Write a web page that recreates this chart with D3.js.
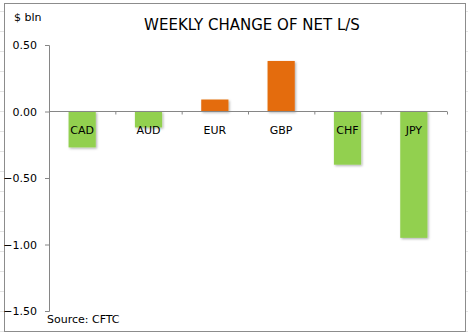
<!DOCTYPE html>
<html><head><meta charset="utf-8">
<script src="https://cdn.jsdelivr.net/npm/d3@7"></script>
<style>html,body{margin:0;padding:0;background:#fff;}svg{display:block;}</style>
</head><body>
<svg id="chart" width="468" height="335"></svg>
<script>
const categories = ["CAD","AUD","EUR","GBP","CHF","JPY"];
const values = [-0.27, -0.12, 0.09, 0.38, -0.40, -0.95];
const yTicks = [0.5, 0, -0.5, -1.0, -1.5];
const title = "WEEKLY CHANGE OF NET L/S";
const unitLabel = "$ bln";
const sourceLabel = "Source: CFTC";

const svg = d3.select("#chart");
const font = "'DejaVu Sans', sans-serif";

// spreadsheet background gridlines
const bg = svg.append("g").attr("stroke","#e3e3e3").attr("stroke-width",1);
for (let y = 11; y < 335; y += 20) {
  bg.append("line").attr("x1",0).attr("x2",4).attr("y1",y+0.5).attr("y2",y+0.5);
  bg.append("line").attr("x1",466).attr("x2",468).attr("y1",y+0.5).attr("y2",y+0.5);
}

// chart area border
svg.append("rect").attr("x",4.5).attr("y",3.5).attr("width",461).attr("height",328)
  .attr("fill","#fff").attr("stroke","#8c8c8c").attr("stroke-width",1);

const x = d3.scaleBand().domain(categories).range([49, 447]).paddingInner(0.59).paddingOuter(0.295);
const y = d3.scaleLinear().domain([-1.5, 0.5]).range([311, 45]);

const defs = svg.append("defs");
const f = defs.append("filter").attr("id","sh").attr("x","-20%").attr("y","-20%").attr("width","150%").attr("height","150%");
f.append("feDropShadow").attr("dx",1.2).attr("dy",1.2).attr("stdDeviation",1.2).attr("flood-color","#000").attr("flood-opacity",0.3);

// bars
svg.append("g").selectAll("rect").data(values).join("rect")
  .attr("x",(d,i)=>x(categories[i]))
  .attr("width",x.bandwidth())
  .attr("y",d=>y(Math.max(0,d)))
  .attr("height",d=>Math.abs(y(d)-y(0)))
  .attr("fill",d=>d>=0?"#E46C0A":"#92D050")
  .attr("filter","url(#sh)");

// y axis
const yAxis = d3.axisLeft(y).tickValues(yTicks).tickFormat(d3.format(".2f")).tickSize(4).tickPadding(8);
const gy = svg.append("g").attr("transform","translate(49,0)").call(yAxis);
gy.selectAll("text").attr("font-family",font).attr("font-size",11).attr("fill","#000");
gy.selectAll("line, path").attr("stroke","#868686");

// x axis at zero
const xAxis = d3.axisBottom(d3.scaleLinear().domain([0,6]).range([49,447])).ticks(6).tickSize(3).tickFormat("");
const gx = svg.append("g").attr("transform",`translate(0,${y(0)})`).call(xAxis);
gx.selectAll("line, path").attr("stroke","#868686");
gx.select(".domain").attr("d","M49,0H447");

// category labels
svg.append("g").selectAll("text").data(categories).join("text")
  .attr("x",d=>x(d)+x.bandwidth()/2)
  .attr("y",y(0)+22)
  .attr("text-anchor","middle")
  .attr("font-family",font).attr("font-size",11).attr("fill","#000")
  .text(d=>d);

svg.append("text").attr("x",252).attr("y",30).attr("text-anchor","middle")
  .attr("font-family",font).attr("font-size",15).attr("fill","#000").text(title);
svg.append("text").attr("x",14).attr("y",21)
  .attr("font-family",font).attr("font-size",11).attr("fill","#000").text(unitLabel);
svg.append("text").attr("x",47).attr("y",323)
  .attr("font-family",font).attr("font-size",11).attr("fill","#000").text(sourceLabel);
</script>
</body></html>
